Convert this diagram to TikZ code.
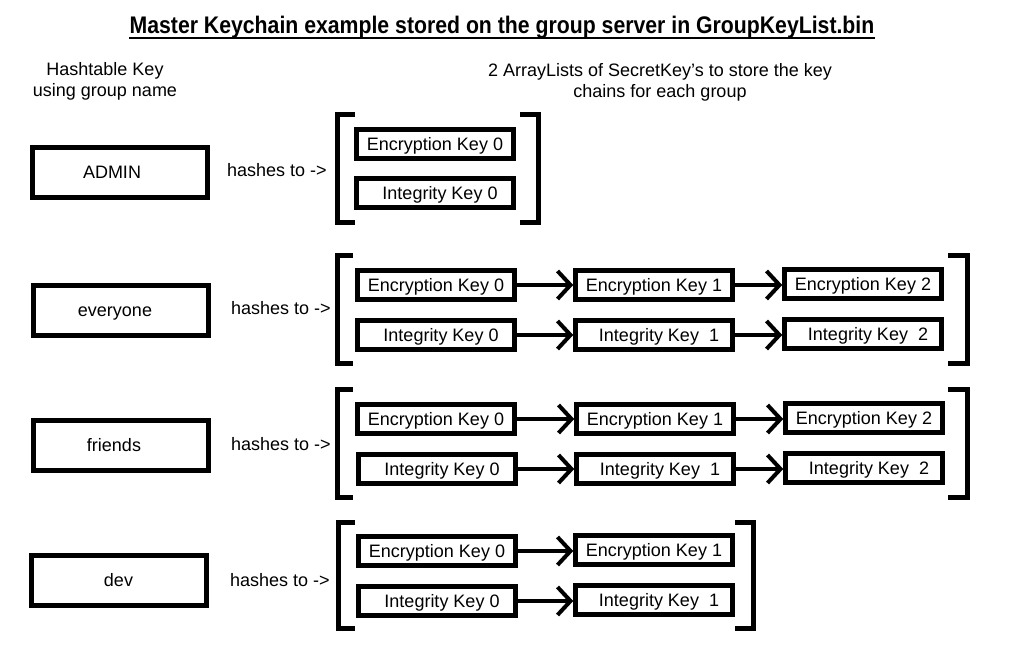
\documentclass[tikz,border=0pt]{standalone}
\usepackage{fontspec}
\setmainfont{Liberation Sans}
\newfontfamily\titlefont[FakeStretch=0.885]{Liberation Sans}
\usetikzlibrary{arrows.meta}

\tikzset{
  groupbox/.style={draw, line width=5pt, minimum width=175pt, minimum height=50pt, inner sep=0pt, text height=14pt, text depth=2pt},
  keybox/.style={draw, line width=4.5pt, minimum width=157pt, minimum height=29pt, inner sep=0pt, text height=14pt, text depth=1pt},
  hashlabel/.style={anchor=west, inner sep=0pt},
  bracket/.style={line width=5pt},
  chain/.style={line width=4pt, -{Straight Barb[length=13pt,width=28pt]}},
}

\begin{document}
\begin{tikzpicture}[x=1pt, y=-1pt, font=\fontsize{18}{21}\selectfont]
  \useasboundingbox[fill=white] (0,0) rectangle (1012,663);

  % Title and headings
  \node[anchor=base, inner sep=0pt] (title) at (502,34) {\titlefont\fontsize{24}{28}\selectfont\bfseries Master Keychain example stored on the group server in GroupKeyList.bin};
  \draw[line width=2pt] ([yshift=-4pt]title.base west) -- ([yshift=-4pt]title.base east);
  \node[align=center] (hkey) at (105,81) {Hashtable Key\\using group name};
  \node[align=center] (alist) at (660,82) {2 ArrayLists of SecretKey's to store the key\\chains for each group};

  % Hashtable keys
  \node[groupbox] (admin) at (120,172.5) {ADMIN\kern16pt};
  \node[groupbox] (everyone) at (121,310) {everyone\kern12pt};
  \node[groupbox] (friends) at (121,445) {friends\kern14pt};
  \node[groupbox] (dev) at (118.5,580) {dev};

  \node[hashlabel] (hadmin) at (227,170) {hashes to ->};
  \node[hashlabel] (heveryone) at (231,308) {hashes to ->};
  \node[hashlabel] (hfriends) at (231,444) {hashes to ->};
  \node[hashlabel] (hdev) at (230,580) {hashes to ->};

  % ADMIN key chains
  \node[keybox] (ae0) at (435,144) {Encryption Key 0};
  \node[keybox] (ai0) at (435,193) {~~Integrity Key 0};
  \draw[bracket] (355,115) -- (337,115) -- (337,223) -- (355,223);
  \draw[bracket] (520,115) -- (538,115) -- (538,223) -- (520,223);

  % everyone key chains
  \node[keybox] (ee0) at (436,285) {Encryption Key 0};
  \node[keybox] (ee1) at (654,285) {Encryption Key 1};
  \node[keybox] (ee2) at (863,284) {Encryption Key 2};
  \node[keybox] (ei0) at (436,335) {~~Integrity Key 0};
  \node[keybox] (ei1) at (654,335) {~~Integrity Key\ \ 1};
  \node[keybox] (ei2) at (863,334) {~~Integrity Key\ \ 2};
  \draw[chain] (ee0.east) -- (ee0.east -| ee1.west);
  \draw[chain] (ee1.east) -- (ee1.east -| ee2.west);
  \draw[chain] (ei0.east) -- (ei0.east -| ei1.west);
  \draw[chain] (ei1.east) -- (ei1.east -| ei2.west);
  \draw[bracket] (353,255) -- (337,255) -- (337,363) -- (353,363);
  \draw[bracket] (948,255) -- (967,255) -- (967,363) -- (948,363);

  % friends key chains
  \node[keybox] (fe0) at (436,419) {Encryption Key 0};
  \node[keybox] (fe1) at (655,419) {Encryption Key 1};
  \node[keybox] (fe2) at (864,418) {Encryption Key 2};
  \node[keybox] (fi0) at (437,469) {~~Integrity Key 0};
  \node[keybox] (fi1) at (655,469) {~~Integrity Key\ \ 1};
  \node[keybox] (fi2) at (864,468) {~~Integrity Key\ \ 2};
  \draw[chain] (fe0.east) -- (fe0.east -| fe1.west);
  \draw[chain] (fe1.east) -- (fe1.east -| fe2.west);
  \draw[chain] (fi0.east) -- (fi0.east -| fi1.west);
  \draw[chain] (fi1.east) -- (fi1.east -| fi2.west);
  \draw[bracket] (353,389) -- (337,389) -- (337,497) -- (353,497);
  \draw[bracket] (948,389) -- (967,389) -- (967,497) -- (948,497);

  % dev key chains
  \node[keybox] (de0) at (437,551) {Encryption Key 0};
  \node[keybox] (de1) at (654,550) {Encryption Key 1};
  \node[keybox] (di0) at (437,601) {~~Integrity Key 0};
  \node[keybox] (di1) at (654,600) {~~Integrity Key\ \ 1};
  \draw[chain] (de0.east) -- (de0.east -| de1.west);
  \draw[chain] (di0.east) -- (di0.east -| di1.west);
  \draw[bracket] (355,522) -- (338,522) -- (338,628) -- (355,628);
  \draw[bracket] (735,522) -- (753,522) -- (753,628) -- (735,628);
\end{tikzpicture}
\end{document}
